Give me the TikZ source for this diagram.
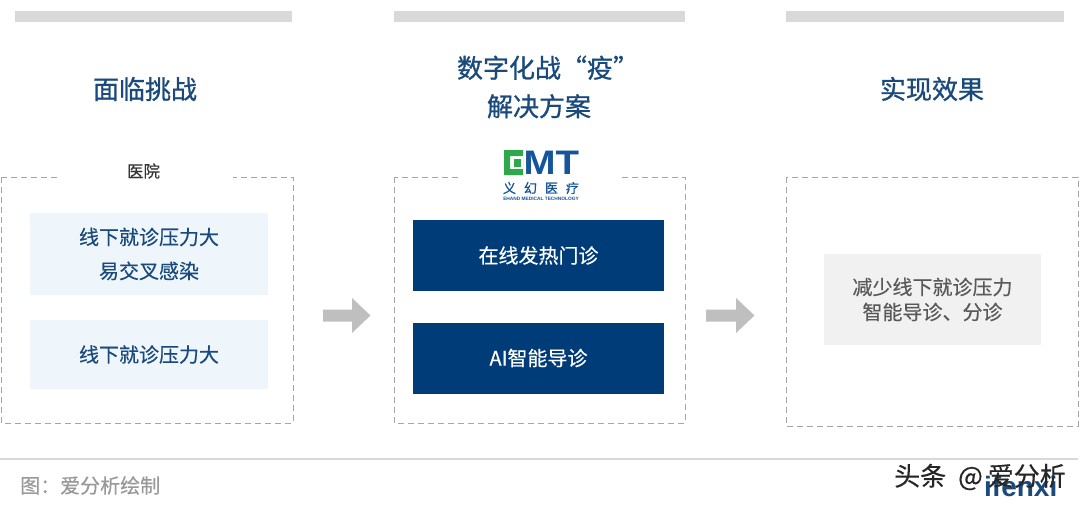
\documentclass[tikz,border=0pt]{standalone}
\usepackage{fontspec}
\setmainfont{Noto Sans CJK SC}[FakeBold=0.35]
\newfontfamily\cjkmed{Noto Sans CJK SC}[FakeBold=0.9]
\newfontfamily\latinb{Liberation Sans}[BoldFont={Liberation Sans Bold}]
\newcommand\dn[1]{\raisebox{-1pt}{#1}}
\definecolor{navy}{HTML}{003C78}
\definecolor{titleblue}{HTML}{1A4A7C}
\definecolor{paleblue}{HTML}{EEF5FB}
\definecolor{palegray}{HTML}{F1F1F1}
\definecolor{bargray}{HTML}{D9D9D9}
\definecolor{dashgray}{HTML}{A6A6A6}
\definecolor{arrowgray}{HTML}{BFBFBF}
\definecolor{emtgreen}{HTML}{2DA84A}
\definecolor{emtblue}{HTML}{14559B}
\tikzset{
  x=1pt,y=-1pt,
  topbar/.style={fill=bargray,draw=none},
  dashbox/.style={draw=dashgray,line width=1pt,dash pattern=on 6pt off 4pt},
  gapcover/.style={fill=white,draw=none},
  titletext/.style={font=\cjkmed\fontsize{26}{38.5}\selectfont,text=titleblue,align=center,inner sep=0pt},
  lightbox/.style={fill=paleblue,draw=none,inner sep=0pt,align=center,text=titleblue,font=\fontsize{20}{34}\selectfont},
  navybox/.style={fill=navy,draw=none,inner sep=0pt,text=white,align=center,font=\fontsize{20}{26}\selectfont},
  graybox/.style={fill=palegray,draw=none,inner sep=0pt,align=center,text=black!65,font=\fontsize{20}{25}\selectfont},
  blockarrow/.style={fill=arrowgray,draw=none},
}
\begin{document}
\begin{tikzpicture}
\useasboundingbox (0,0) rectangle (1080,506);
\fill[white] (0,0) rectangle (1080,506);
% top bars
\fill[topbar] (15,11) rectangle (292,22);
\fill[topbar] (394,11) rectangle (685,22);
\fill[topbar] (786,11) rectangle (1064,22);
% titles
\node[titletext] (t1) at (145,89) {面临挑战};
\node[titletext] (t2) at (539,87) {\hspace*{18pt}数字化战“疫”\\解决方案};
\node[titletext] (t3) at (932,89) {实现效果};
% dashed frames
\draw[dashbox] (1,177) rectangle (293,423);
\draw[dashbox] (394,177) rectangle (685,423);
\draw[dashbox] (786,177) rectangle (1078,426);
\fill[gapcover] (57,170) rectangle (233,184);
\fill[gapcover] (458,170) rectangle (620,184);
\node[font=\fontsize{16.5}{20}\selectfont,text=black!80,inner sep=0pt] (hosp) at (143.5,171) {医院};
% left boxes
\node[lightbox,minimum width=238pt,minimum height=82pt] (l1) at (149,254) {线下就诊压力大\\易交叉感染};
\node[lightbox,minimum width=238pt,minimum height=69pt] (l2) at (149,354.5) {线下就诊压力大};
% middle boxes
\node[navybox,minimum width=251pt,minimum height=71pt] (m1) at (538.5,255.5) {\dn{在线发热门诊}};
\node[navybox,minimum width=251pt,minimum height=71pt] (m2) at (538.5,358) {\dn{AI智能导诊}};
% right box
\node[graybox,minimum width=217pt,minimum height=91pt] (r1) at (932.5,299.5) {\dn{减少线下就诊压力}\\\dn{智能导诊、分诊}};
% arrows
\fill[blockarrow] (323,309.5) -- (352,309.5) -- (352,298) -- (370.5,315.5) -- (352,333) -- (352,321.5) -- (323,321.5) -- cycle;
\fill[blockarrow] (706,309.5) -- (736,309.5) -- (736,298) -- (754.5,315.5) -- (736,333) -- (736,321.5) -- (706,321.5) -- cycle;
% logo
\fill[emtgreen,even odd rule] (504,150) rectangle (523,175) (510,156) rectangle (523,169);
\fill[emtgreen] (514,158.5) rectangle (521,166.5);
\node[anchor=west,inner sep=0pt,text=emtblue,xscale=1.13,transform shape,font=\latinb\bfseries\fontsize{34}{34}\selectfont] (emt) at (523.5,162.5) {MT};
\node[inner sep=0pt,text=emtblue,font=\cjkmed\fontsize{13}{15}\selectfont] (yh) at (541,188) {义\hspace{8pt}幻\hspace{8pt}医\hspace{8pt}疗};
\node[inner sep=0pt,text=emtblue,font=\latinb\bfseries\fontsize{4.8}{6}\selectfont] (en) at (541,198.5) {EHAND MEDICAL TECHNOLOGY};
% footer
\draw[line width=1.3pt,color=bargray] (0,459) -- (1078,459);
\node[anchor=west,inner sep=0pt,text=black!40,font=\fontsize{20}{24}\selectfont] (src) at (20,485.5) {图：爱分析绘制};
% watermark
\node[anchor=west,inner sep=0pt,text=titleblue,font=\latinb\bfseries\fontsize{28}{28}\selectfont] (ifx) at (984,486) {ifenxi};
\node[anchor=west,inner sep=0pt,text=black!85,font=\fontsize{26}{28}\selectfont] (wm) at (894,477) {头条\hspace{12pt}@\hspace{5pt}爱分析};
\end{tikzpicture}
\end{document}
